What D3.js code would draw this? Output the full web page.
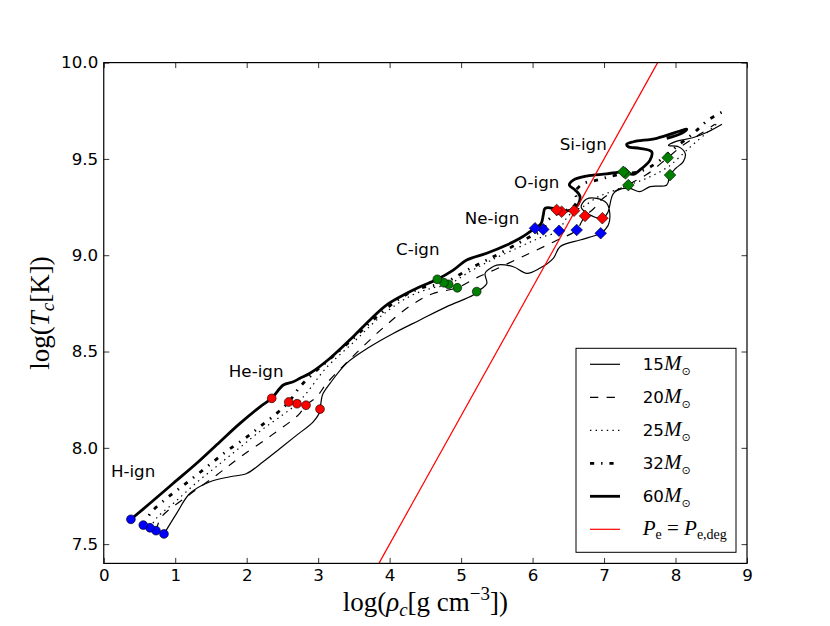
<!DOCTYPE html>
<html><head><meta charset="utf-8">
<script src="https://cdn.jsdelivr.net/npm/d3@7"></script>
<style>body{margin:0;background:#fff} svg{display:block}</style>
</head><body><svg id="c" width="830" height="626"></svg>
<script>
// ---------------- data ----------------
const massLabels = ["15", "20", "25", "32", "60"];
const xTicks = [0, 1, 2, 3, 4, 5, 6, 7, 8, 9];
const yTicks = [7.5, 8.0, 8.5, 9.0, 9.5, 10.0];

const track15 = [[0.843,7.553],[1.02,7.66],[1.207,7.764],[1.487,7.824],[1.767,7.85],[2.0,7.867],[2.23,7.928],[2.466,7.997],[2.70,8.066],[2.93,8.135],[3.026,8.19],[3.03,8.205],[3.05,8.26],[3.07,8.283],[3.166,8.335],[3.40,8.44],[3.725,8.525],[4.05,8.594],[4.425,8.664],[4.80,8.733],[5.17,8.793],[5.218,8.811],[5.30,8.83],[5.36,8.854],[5.335,8.906],[5.40,8.93],[5.498,8.949],[5.73,8.94],[5.918,8.906],[6.10,8.932],[6.29,8.984],[6.384,9.044],[6.664,9.079],[6.897,9.105],[6.953,9.114],[7.06,9.157],[7.08,9.218],[7.036,9.27],[6.897,9.295],[6.75,9.29],[6.68,9.25],[6.8,9.21],[6.976,9.192],[7.05,9.22],[7.13,9.32],[7.25,9.345],[7.363,9.347],[7.5,9.33],[7.643,9.356],[7.877,9.365],[7.923,9.416],[8.0,9.45],[8.109,9.486],[8.135,9.529],[8.04,9.563],[7.9,9.57],[8.0,9.59],[8.24,9.61],[8.45,9.64],[8.65,9.68]];

const track20 = [[0.731,7.57],[0.81,7.642],[1.16,7.746],[1.58,7.859],[1.906,7.951],[2.35,8.066],[2.72,8.17],[2.83,8.221],[2.98,8.265],[3.12,8.335],[3.5,8.48],[3.9,8.62],[4.3,8.74],[4.6,8.8],[4.947,8.831],[5.2,8.88],[5.5,8.93],[5.9,9.0],[6.3,9.07],[6.617,9.131],[6.68,9.17],[6.734,9.204],[6.85,9.24],[7.0,9.3],[7.3,9.36],[7.6,9.42],[7.89,9.506],[8.1,9.57],[8.35,9.63],[8.55,9.68]];

const track25 = [[0.647,7.585],[0.75,7.64],[1.0,7.72],[1.3,7.82],[1.6,7.91],[1.9,8.0],[2.2,8.09],[2.5,8.17],[2.704,8.229],[2.85,8.29],[3.1,8.41],[3.5,8.55],[3.9,8.69],[4.3,8.79],[4.6,8.83],[4.826,8.849],[5.1,8.91],[5.4,8.97],[5.8,9.04],[6.1,9.09],[6.37,9.127],[6.45,9.18],[6.58,9.231],[6.7,9.25],[6.9,9.3],[7.1,9.33],[7.34,9.364],[7.6,9.40],[7.9,9.46],[8.2,9.56],[8.45,9.64],[8.6,9.69]];

const track32 = [[0.553,7.599],[0.67,7.668],[0.88,7.738],[1.09,7.798],[1.30,7.859],[1.533,7.928],[1.743,7.989],[1.976,8.049],[2.186,8.11],[2.42,8.179],[2.588,8.238],[2.746,8.317],[2.932,8.387],[3.12,8.447],[3.49,8.568],[3.77,8.664],[4.145,8.776],[4.425,8.828],[4.76,8.857],[5.17,8.94],[5.498,9.001],[5.80,9.062],[5.964,9.096],[6.15,9.134],[6.22,9.183],[6.407,9.226],[6.55,9.245],[6.62,9.28],[6.6,9.33],[6.7,9.37],[6.9,9.39],[7.1,9.41],[7.29,9.425],[7.45,9.43],[7.6,9.45],[7.737,9.48],[8.0,9.56],[8.25,9.633],[8.45,9.7],[8.66,9.745]];

const track60 = [[0.38,7.629],[0.647,7.712],[0.973,7.816],[1.30,7.92],[1.627,8.032],[1.906,8.127],[2.186,8.213],[2.35,8.257],[2.512,8.326],[2.652,8.343],[2.746,8.361],[2.886,8.387],[3.166,8.465],[3.49,8.577],[3.725,8.664],[3.96,8.742],[4.24,8.802],[4.425,8.836],[4.667,8.875],[4.89,8.923],[5.078,8.975],[5.358,9.01],[5.638,9.053],[5.824,9.088],[5.964,9.122],[6.034,9.14],[6.12,9.165],[6.15,9.209],[6.174,9.243],[6.267,9.245],[6.337,9.235],[6.5,9.231],[6.617,9.252],[6.664,9.304],[6.594,9.339],[6.514,9.364],[6.57,9.39],[6.757,9.411],[7.037,9.422],[7.27,9.433],[7.41,9.42],[7.50,9.442],[7.643,9.494],[7.666,9.537],[7.50,9.555],[7.34,9.563],[7.317,9.576],[7.41,9.589],[7.737,9.607],[8.063,9.645],[8.156,9.655],[8.086,9.633],[7.877,9.607]];

// ignition points, one per mass in massLabels order (15,20,25,32,60)
const hIgn  = [[0.843,7.553],[0.731,7.570],[0.647,7.585],[0.553,7.599],[0.380,7.629]];
const heIgn = [[3.026,8.201],[2.830,8.221],[2.704,8.229],[2.588,8.238],[2.350,8.257]];
const cIgn  = [[5.218,8.811],[4.947,8.831],[4.826,8.849],[4.760,8.857],[4.667,8.875]];
const neIgn = [[6.953,9.114],[6.617,9.131],[6.370,9.127],[6.150,9.134],[6.034,9.140]];
const oIgn  = [[6.976,9.192],[6.734,9.204],[6.580,9.231],[6.407,9.226],[6.337,9.235]];
const siIgn = [[7.923,9.416],[7.890,9.506],[7.340,9.364],[7.300,9.425],[7.270,9.433]];

const phaseNames = ["H-ign", "He-ign", "C-ign", "Ne-ign", "O-ign", "Si-ign"];
const phaseLabelPos = [[0.10,7.85],[1.75,8.37],[4.09,9.0],[5.05,9.16],[5.74,9.35],[6.38,9.545]];

const degLine = [[3.85,7.4],[7.75,10.0]];

// ---------------- drawing ----------------
const svg = d3.select("#c");
const m = {l:103.75, r:747, t:62.6, b:563.4};
const x = d3.scaleLinear().domain([0,9]).range([m.l,m.r]);
const y = d3.scaleLinear().domain([7.4,10]).range([m.b,m.t]);
svg.append("rect").attr("width",830).attr("height",626).attr("fill","#fff");

svg.append("clipPath").attr("id","clip").append("rect")
  .attr("x",m.l).attr("y",m.t).attr("width",m.r-m.l).attr("height",m.b-m.t);

const plot = svg.append("g").attr("clip-path","url(#clip)");
const line = d3.line().x(d=>x(d[0])).y(d=>y(d[1])).curve(d3.curveCatmullRom.alpha(0.5));
const straight = d3.line().x(d=>x(d[0])).y(d=>y(d[1]));

const styles = {
  "15": {w:1.2, dash:null},
  "20": {w:1.2, dash:"8.3,8.3"},
  "25": {w:1.2, dash:"1.4,4.2"},
  "32": {w:2.8, dash:"4.2,6.9,1.4,6.9"},
  "60": {w:2.8, dash:null}
};
const tracks = {"15":track15,"20":track20,"25":track25,"32":track32,"60":track60};

massLabels.forEach(k=>{
  plot.append("path").datum(tracks[k]).attr("d",line)
    .attr("fill","none").attr("stroke","#000")
    .attr("stroke-width",styles[k].w)
    .attr("stroke-dasharray",styles[k].dash)
    .attr("stroke-linejoin","round");
});
plot.append("path").datum(degLine).attr("d",straight)
  .attr("fill","none").attr("stroke","#ff0000").attr("stroke-width",1.2);

// markers
function circles(data,color){
  plot.selectAll(null).data(data).enter().append("circle")
    .attr("cx",d=>x(d[0])).attr("cy",d=>y(d[1])).attr("r",4.4)
    .attr("fill",color).attr("stroke","#000").attr("stroke-width",0.6);
}
function diamonds(data,color){
  const s=5.8;
  plot.selectAll(null).data(data).enter().append("path")
    .attr("d",d=>{const cx=x(d[0]),cy=y(d[1]);return `M${cx},${cy-s}L${cx+s},${cy}L${cx},${cy+s}L${cx-s},${cy}Z`;})
    .attr("fill",color).attr("stroke","#000").attr("stroke-width",0.6);
}
circles(hIgn,"#0000ff");
circles(heIgn,"#ff0000");
circles(cIgn,"#008000");
diamonds(neIgn,"#0000ff");
diamonds(oIgn,"#ff0000");
diamonds(siIgn,"#008000");

// phase labels
svg.selectAll(null).data(phaseNames).enter().append("text")
  .attr("x",(d,i)=>x(phaseLabelPos[i][0])).attr("y",(d,i)=>y(phaseLabelPos[i][1]))
  .attr("font-family","DejaVu Sans").attr("font-size",16.7).attr("fill","#000")
  .text(d=>d);

// axes
const tl = 5.5;
const fmtY = d3.format(".1f");
const axB = svg.append("g").attr("transform",`translate(0,${m.b})`)
  .call(d3.axisBottom(x).tickValues(xTicks).tickSize(-tl).tickPadding(6).tickFormat(d3.format("d")));
const axT = svg.append("g").attr("transform",`translate(0,${m.t})`)
  .call(d3.axisTop(x).tickValues(xTicks).tickSize(-tl).tickFormat(""));
const axL = svg.append("g").attr("transform",`translate(${m.l},0)`)
  .call(d3.axisLeft(y).tickValues(yTicks).tickSize(-tl).tickPadding(5.5).tickFormat(fmtY));
const axR = svg.append("g").attr("transform",`translate(${m.r},0)`)
  .call(d3.axisRight(y).tickValues(yTicks).tickSize(-tl).tickFormat(""));
[axB,axT,axL,axR].forEach(a=>{
  a.select(".domain").remove();
  a.selectAll(".tick line").attr("stroke","#000").attr("stroke-width",0.8);
  a.selectAll(".tick text").attr("font-family","DejaVu Sans").attr("font-size",16.7).attr("fill","#000");
});
svg.append("rect").attr("x",m.l).attr("y",m.t).attr("width",m.r-m.l).attr("height",m.b-m.t)
  .attr("fill","none").attr("stroke","#000").attr("stroke-width",1.2);

// axis labels
const serif = "Liberation Serif";
const xl = svg.append("text").attr("x",(m.l+m.r)/2).attr("y",611).attr("text-anchor","middle")
  .attr("font-family",serif).attr("font-size",27).attr("fill","#000");
xl.append("tspan").text("log(");
xl.append("tspan").attr("font-style","italic").text("ρ");
xl.append("tspan").attr("font-style","italic").attr("font-size",19).attr("dy",5).text("c");
xl.append("tspan").attr("dy",-5).text("[g cm");
xl.append("tspan").attr("font-size",19).attr("dy",-11).text("−3");
xl.append("tspan").attr("dy",11).text("])");

const yl = svg.append("text").attr("transform",`translate(49,${(m.t+m.b)/2}) rotate(-90)`)
  .attr("text-anchor","middle").attr("font-family",serif).attr("font-size",27).attr("fill","#000");
yl.append("tspan").text("log(");
yl.append("tspan").attr("font-style","italic").text("T");
yl.append("tspan").attr("font-style","italic").attr("font-size",19).attr("dy",5).text("c");
yl.append("tspan").attr("dy",-5).text("[K])");

// legend
const lg = svg.append("g");
lg.append("rect").attr("x",576).attr("y",348.3).attr("width",160).attr("height",204)
  .attr("fill","#fff").attr("stroke","#000").attr("stroke-width",1);
const rowY = i => 364.3 + i*33;
massLabels.forEach((k,i)=>{
  lg.append("line").attr("x1",590).attr("x2",620).attr("y1",rowY(i)).attr("y2",rowY(i))
    .attr("stroke","#000").attr("stroke-width",styles[k].w).attr("stroke-dasharray",styles[k].dash);
  const t = lg.append("text").attr("x",642.7).attr("y",rowY(i)+6).attr("fill","#000")
    .attr("font-family","DejaVu Sans").attr("font-size",16.7);
  t.append("tspan").text(k);
  t.append("tspan").attr("font-family",serif).attr("font-style","italic").attr("font-size",21).text("M");
  t.append("tspan").attr("font-size",11).attr("dy",5).text("⊙");
});
lg.append("line").attr("x1",590).attr("x2",620).attr("y1",rowY(5)).attr("y2",rowY(5))
  .attr("stroke","#ff0000").attr("stroke-width",1.2);
const pt = lg.append("text").attr("x",642.7).attr("y",rowY(5)+6).attr("fill","#000")
  .attr("font-family",serif).attr("font-size",21);
pt.append("tspan").attr("font-style","italic").text("P");
pt.append("tspan").attr("font-size",14).attr("dy",4).text("e");
pt.append("tspan").attr("dy",-4).text(" = ");
pt.append("tspan").attr("font-style","italic").text("P");
pt.append("tspan").attr("font-size",14).attr("dy",4).text("e,deg");
</script>
</body></html>
